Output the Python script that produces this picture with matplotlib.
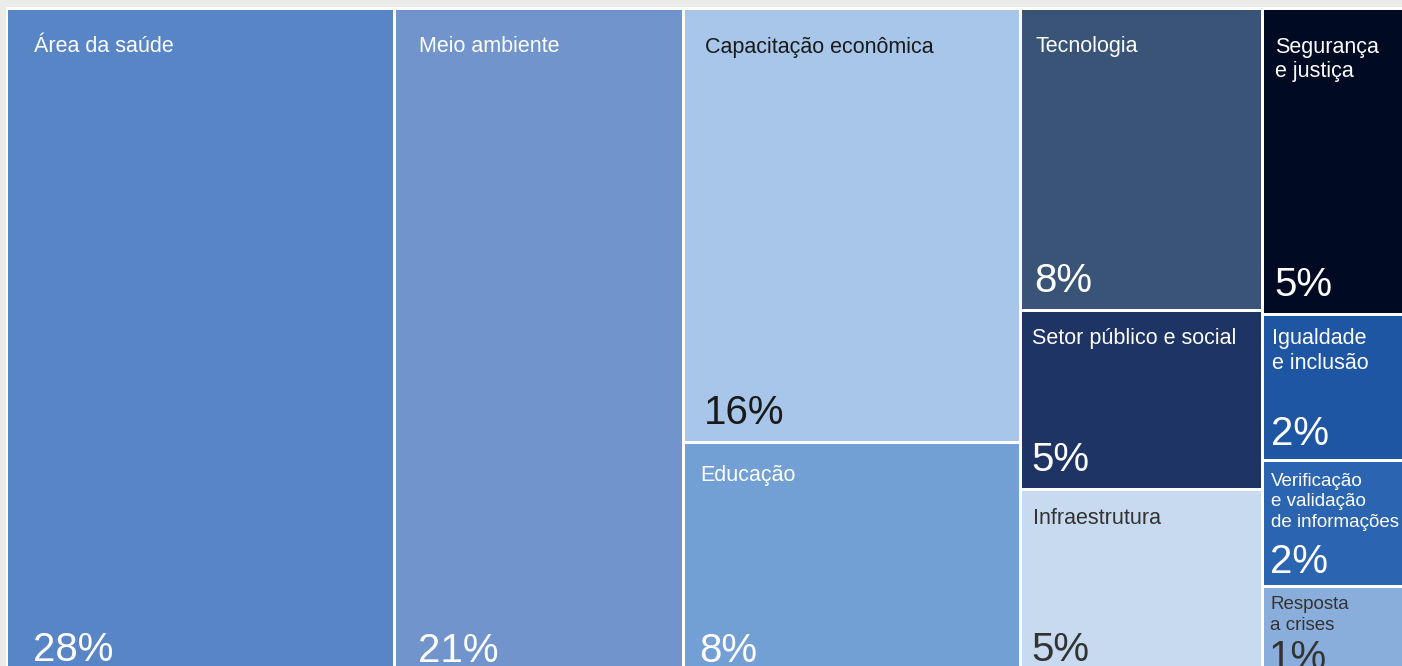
import numpy as np
import matplotlib
matplotlib.use("Agg")
import matplotlib.pyplot as plt
from matplotlib.patches import Rectangle

# Share of projects per area (percent); labels show the rounded value
areas = ["Área da saúde", "Meio ambiente", "Capacitação econômica", "Educação",
         "Tecnologia", "Setor público e social", "Infraestrutura",
         "Segurança\ne justiça", "Igualdade\ne inclusão",
         "Verificação\ne validação\nde informações", "Resposta\na crises"]
shares = [27.7, 20.6, 15.5, 8.5, 7.8, 4.6, 4.9, 4.6, 2.2, 1.9, 1.4]

# Tiles stacked in each column, left to right
columns = [[0], [1], [2, 3], [4, 5, 6], [7, 8, 9, 10]]

fills = ["#5885c6", "#7094cb", "#a8c6e9", "#72a0d5", "#3a5478", "#1e3464",
         "#c7daf0", "#000a22", "#1f56a3", "#2b65b1", "#8aaedb"]
inks = ["white", "white", "#1a1a1a", "white", "white", "white",
        "#333333", "white", "white", "white", "#333333"]

W, H = 1402, 666
fig = plt.figure(figsize=(W / 100, H / 100), dpi=100, facecolor="#ebebea")
ax = fig.add_axes([0, 0, 1, 1])
ax.set_xlim(0, W)
ax.set_ylim(H, 0)
ax.axis("off")

# treemap frame in pixel units
x0, y0, x1, y1 = 6.5, 8.0, 1404.5, 680.0
gap = 1.5
ax.add_patch(Rectangle((6, 7), W, H, facecolor="white", edgecolor="none"))

total = sum(shares)
cx = x0
for col in columns:
    col_sum = sum(shares[i] for i in col)
    cw = (x1 - x0) * col_sum / total
    cy = y0
    for i in col:
        ch = (y1 - y0) * shares[i] / col_sum
        rx, ry, rw, rh = cx + gap, cy + gap, cw - 2 * gap, ch - 2 * gap
        ax.add_patch(Rectangle((rx, ry), rw, rh, facecolor=fills[i], edgecolor="none"))

        size = np.sqrt(rw * rh)
        pad_x = 0.052 * size
        pad_top = min(27, 0.09 * rh)
        pad_bot = min(17, 0.1 * rh)
        fs = 15.5 if size > 135 else 13.5
        ax.text(rx + pad_x, ry + pad_top, areas[i], color=inks[i], fontsize=fs,
                family="Liberation Sans", va="top", ha="left", linespacing=1.25)
        ax.text(rx + pad_x - 1, ry + rh - pad_bot, f"{shares[i]:.0f}%", color=inks[i],
                fontsize=29, family="Liberation Sans", va="baseline", ha="left")
        cy += ch
    cx += cw

fig.savefig("out.png", dpi=100, facecolor=fig.get_facecolor())
